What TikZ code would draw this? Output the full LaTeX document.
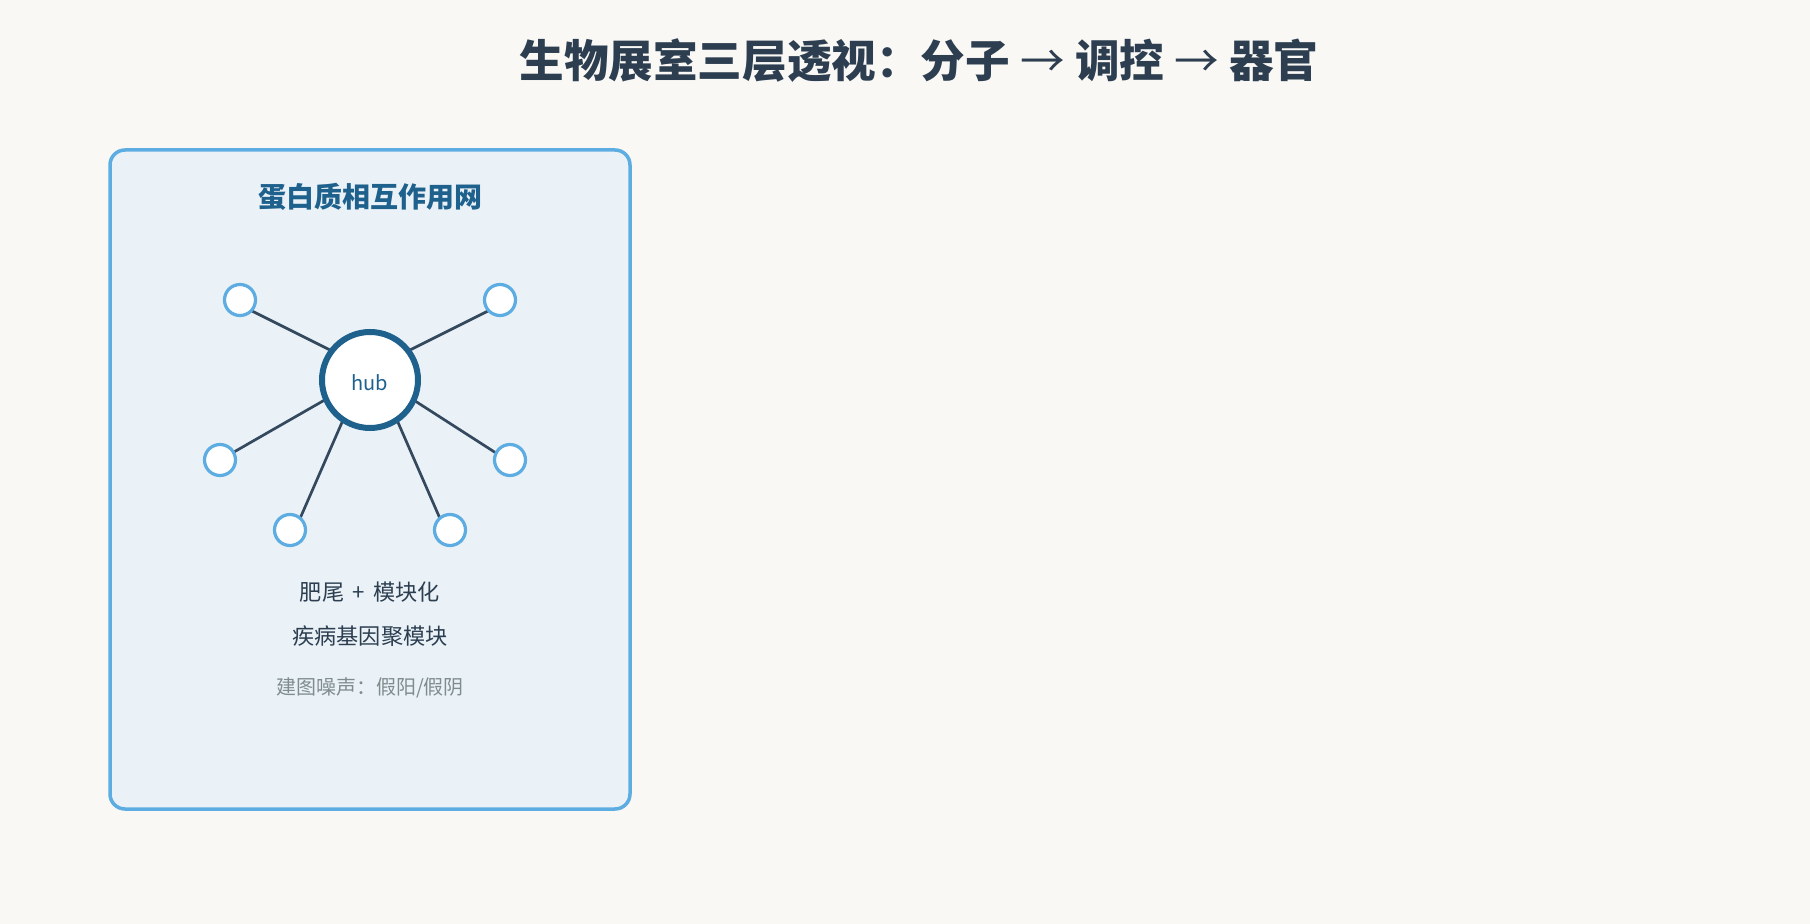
\documentclass[tikz,border=0pt]{standalone}
\usepackage{fontspec}
\setmainfont{Noto Sans CJK SC}
\definecolor{bgc}{RGB}{249,248,245}
\definecolor{panelfill}{RGB}{234,242,248}
\definecolor{panelline}{RGB}{93,173,226}
\definecolor{darkblue}{RGB}{31,97,141}
\definecolor{ink}{RGB}{44,62,80}
\definecolor{edgec}{RGB}{52,73,94}
\definecolor{graytext}{RGB}{127,140,141}
\tikzset{
  panel/.style={draw=panelline, line width=1.75pt, fill=panelfill, rounded corners=7.5pt},
  hubnode/.style={circle, draw=darkblue, line width=3pt, fill=white, minimum size=48pt, inner sep=0pt, text=darkblue, font=\fontsize{10}{12}\selectfont},
  leaf/.style={circle, draw=panelline, line width=1.6pt, fill=white, minimum size=15.5pt, inner sep=0pt},
  link/.style={draw=edgec, line width=1.35pt},
  maintitle/.style={text=ink, font=\fontsize{22.3}{26}\selectfont\bfseries},
  paneltitle/.style={text=darkblue, font=\fontsize{14}{17}\selectfont\bfseries},
  bodytext/.style={text=ink, font=\fontsize{11.1}{13}\selectfont},
  notetext/.style={text=graytext, font=\fontsize{10}{12}\selectfont}
}
\begin{document}
\begin{tikzpicture}[x=0.5pt,y=-0.5pt]
\fill[bgc] (0,0) rectangle (1810,924);
\useasboundingbox (0,0) rectangle (1810,924);
\node[maintitle] (title) at (919,61) {生物展室三层透视：分子 {\mdseries →} 调控 {\mdseries →} 器官};
\draw[panel] (110,150) rectangle (630,809);
\node[paneltitle] (ptitle) at (370,197) {蛋白质相互作用网};
% connector end points
\coordinate (s1) at (370,370); \coordinate (e1) at (240,305);
\coordinate (s2) at (370,370); \coordinate (e2) at (500,305);
\coordinate (s3) at (370,374); \coordinate (e3) at (220,460);
\coordinate (s4) at (370,372); \coordinate (e4) at (510,462);
\coordinate (s5) at (364,372); \coordinate (e5) at (295,530);
\coordinate (s6) at (376,372); \coordinate (e6) at (445,530);
\foreach \i in {1,...,6} \draw[link] (s\i) -- (e\i);
\node[hubnode] (hub) at (370,380) {\raisebox{-1.5pt}[\height][\depth]{hub}};
\node[leaf] (n1) at (240,300) {};
\node[leaf] (n2) at (500,300) {};
\node[leaf] (n3) at (220,460) {};
\node[leaf] (n4) at (510,460) {};
\node[leaf] (n5) at (290,530) {};
\node[leaf] (n6) at (450,530) {};
\node[bodytext] (t1) at (370,592) {肥尾\hspace{0.38em}+\hspace{0.38em}模块化};
\node[bodytext] (t2) at (370,636) {疾病基因聚模块};
\node[notetext] (t3) at (370,688) {建图噪声：假阳/假阴};
\end{tikzpicture}
\end{document}
